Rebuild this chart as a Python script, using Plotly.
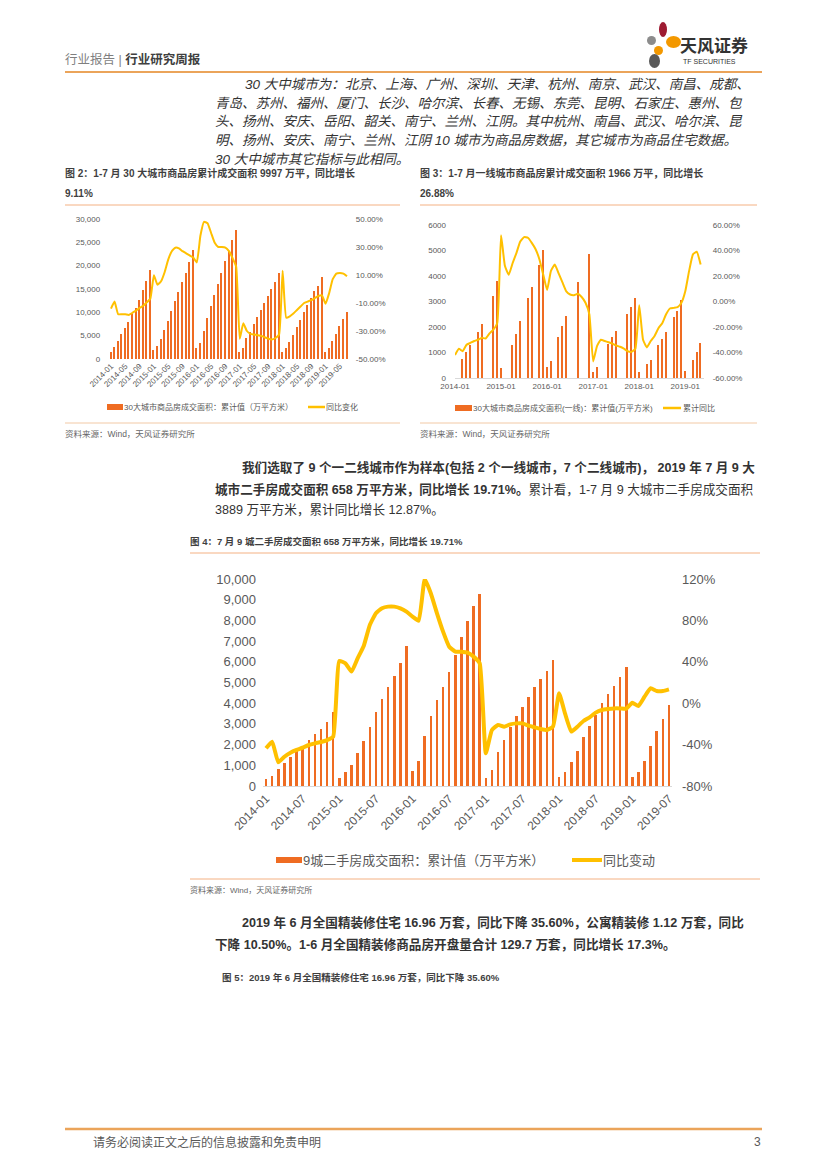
import plotly.graph_objects as go

# The page renders the figure with the browser's default 8px body margin,
# so the figure is shrunk by that margin and all positions shifted.
PAGE_W, PAGE_H = 827, 1169
OFF = 8
W, H = PAGE_W - OFF, PAGE_H - OFF
FONT = "Liberation Sans, Noto Sans CJK SC, sans-serif"
ORANGE = "#EF6C22"
YELLOW = "#FFC000"
GRAY = "#595959"

# ---------------- data ----------------
months = [f"{y}-{m:02d}" for y in range(2014, 2020) for m in range(1, 13)][:67]

# Fig 2: 30 cities cumulative area (10k m2) and YoY (%)
fig2_area = [1500, 2600, 3900, 5400, 6600, 8000, 9600, 11000, 12600, 14800, 16800, 19100,
             1900, 2800, 4200, 6200, 8100, 10200, 12400, 14400, 16400, 18500, 20800, 23400,
             2300, 3500, 6000, 8800, 11300, 13700, 16000, 18500, 21100, 23200, 25400, 27600,
             1400, 2300, 4600, 5700, 7400, 9000, 10400, 11900, 13600, 15100, 16600, 18400,
             1600, 2300, 3700, 5200, 6800, 8400, 10000, 11500, 13000, 14500, 15700, 17500,
             1400, 2300, 3900, 5400, 7100, 8600, 10000]
fig2_yoy = [-14, -9, -18, -18, -18, -18.5, -17, -15.5, -13.5, -12, -9.5, -7,
            9.8, 3, 5.5, 12, 21, 27, 29.5, 29, 27, 25.5, 24, 22.5,
            19, 38, 48, 47, 40, 33, 30, 30, 29.5, 27, 22, 16,
            -35.5, -24.5, -30, -32, -32.5, -33, -33.5, -34.5, -35.5, -36, -35, -32.5,
            13, -20.5, -19.5, -17.5, -15, -12.5, -10, -9, -8, -6.5, -5, -4.5,
            -10.5, -3, 7, 11, 11.5, 11, 9.1]
fig2_xticks = ["2014-01", "2014-05", "2014-09", "2015-01", "2015-05", "2015-09", "2016-01",
               "2016-05", "2016-09", "2017-01", "2017-05", "2017-09", "2018-01", "2018-05",
               "2018-09", "2019-01", "2019-05"]

# Fig 3: tier-1 cities cumulative area (10k m2, gaps = no data) and cumulative YoY (%)
fig3_area = [None, None, 740, 1020, 1280, None, 1800, 2120, None, None, 3220, 3800,
             400, None, None, 1300, 1730, 2230, None, 3140, 3570, None, 4430, 5020,
             440, 680, None, 1590, 2020, 2440, None, None, 3770, None, None, 4850,
             250, 440, None, None, 1350, 1620, 1850, None, None, 2520, 2800, 3120,
             220, None, 530, 720, None, 1280, 1540, 1810, None, 2410, 2630, 3040,
             260, None, 720, 1030, 1360]
fig3_yoy = [-42, -37, -39, -34, -32.5, -31, -30, -28.5, -29, -25, -22, -17,
            52, 28, 21, 30, 38, 47, 50.5, 50, 46, 41, 33, 21,
            9, 24, 29, 22, 15, 8, 5.5, 5, 6, 3.5, -1, -10,
            -47, -35, -30, -31, -32, -33, -34.5, -35.5, -37, -39, -39.5, -37,
            -3, -30, -36, -31, -27, -21, -17, -10, -5.5, -5, -4.5, -1,
            8, 24, 37, 39, 29]
fig3_xticks = ["2014-01", "2015-01", "2016-01", "2017-01", "2018-01", "2019-01"]

# Fig 4: 9 cities second-hand cumulative area (10k m2) and YoY (%)
fig4_area = [340, 480, 820, 1120, 1400, 1710, 1800, 2220, 2520, 2750, 3090, 3590,
             370, 690, 1010, 1610, 2190, 2870, 3590, 4220, 4780, 5310, 5960, 6760,
             740, 1220, 2430, 3400, 4150, 4780, 5520, 6330, 7210, 7970, 8710, 9290,
             400, 770, 1660, 2220, 2870, 3400, 3830, 4320, 4800, 5150, 5570, 6090,
             430, 690, 1180, 1710, 2380, 2910, 3430, 3990, 4440, 4850, 5280, 5760,
             430, 680, 1210, 1930, 2670, 3220, 3910]
fig4_yoy = [-43.6, -37.2, -57.1, -51.7, -47.8, -45.2, -43, -40.4, -38.8, -37.5, -35.6, -32.3,
            40.8, 38.5, 30.5, 43.3, 55.3, 75.6, 86.8, 91.7, 93.3, 93.3, 91.7, 88.4,
            83.6, 79.7, 120, 106, 86.8, 69.1, 54.6, 49.8, 49.8, 48.8, 45, 38.5,
            -48.4, -25.9, -21, -22.7, -20.4, -19.5, -19.5, -21.7, -23.3, -24.9, -25.9, -22.7,
            9.5, -10.4, -27.5, -22.7, -17.2, -13.7, -9.1, -6.6, -5.6, -5, -5, -5.3,
            0.5, -2.7, 6.3, 14.4, 11.8, 11.8, 13.4]
fig4_xticks = ["2014-01", "2014-07", "2015-01", "2015-07", "2016-01", "2016-07",
               "2017-01", "2017-07", "2018-01", "2018-07", "2019-01", "2019-07"]

fig2_left = [0, 5000, 10000, 15000, 20000, 25000, 30000]
fig2_right = [-50, -30, -10, 10, 30, 50]
fig3_left = [0, 1000, 2000, 3000, 4000, 5000, 6000]
fig3_right = [-60, -40, -20, 0, 20, 40, 60]
fig4_left = [0, 1000, 2000, 3000, 4000, 5000, 6000, 7000, 8000, 9000, 10000]
fig4_right = [-80, -40, 0, 40, 80, 120]


def px(x):
    return (x - OFF) / W


def py(y):
    return 1 - (y - OFF) / H


fig = go.Figure()

# Fig 2
fig.add_trace(go.Bar(x=months, y=fig2_area, xaxis="x", yaxis="y", marker_color=ORANGE,
                     marker_line_width=0, width=0.42, showlegend=False))
fig.add_trace(go.Scatter(x=months, y=fig2_yoy, xaxis="x", yaxis="y2", mode="lines",
                         line=dict(color=YELLOW, width=2, shape="spline", smoothing=0.4),
                         showlegend=False))
# Fig 3
fig.add_trace(go.Bar(x=months[:len(fig3_area)], y=fig3_area, xaxis="x2", yaxis="y3",
                     marker_color=ORANGE, marker_line_width=0, width=0.38, showlegend=False))
fig.add_trace(go.Scatter(x=months[:len(fig3_yoy)], y=fig3_yoy, xaxis="x2", yaxis="y4",
                         mode="lines",
                         line=dict(color=YELLOW, width=2, shape="spline", smoothing=0.4),
                         showlegend=False))
# Fig 4
fig.add_trace(go.Bar(x=months, y=fig4_area, xaxis="x3", yaxis="y5", marker_color=ORANGE,
                     marker_line_width=0, width=0.42, showlegend=False))
fig.add_trace(go.Scatter(x=months, y=fig4_yoy, xaxis="x3", yaxis="y6", mode="lines",
                         line=dict(color=YELLOW, width=4, shape="spline", smoothing=0.4),
                         showlegend=False))


def xax(dom, anchor, rng, ticks, angle, size, line=False):
    return dict(domain=[px(dom[0]), px(dom[1])], anchor=anchor, type="category",
                categoryorder="array", categoryarray=months, automargin=False,
                range=rng, tickmode="array", tickvals=ticks, ticktext=ticks,
                tickangle=angle, tickfont=dict(size=size, color=GRAY, family=FONT),
                showgrid=False, zeroline=False, showline=line, linecolor="#D9D9D9",
                linewidth=1, ticks="", fixedrange=True)


def yax(dom, anchor, rng, vals, texts, size, standoff=6):
    return dict(domain=[py(dom[1]), py(dom[0])], anchor=anchor, range=rng,
                tickmode="array", tickvals=vals, ticktext=texts, automargin=False,
                tickfont=dict(size=size, color=GRAY, family=FONT),
                showgrid=False, zeroline=False, showline=False, ticks="",
                ticklabelstandoff=standoff, fixedrange=True)


def yax_r(over, anchor, rng, vals, texts, size, standoff=6):
    return dict(overlaying=over, side="right", anchor=anchor, range=rng,
                tickmode="array", tickvals=vals, ticktext=texts, automargin=False,
                tickfont=dict(size=size, color=GRAY, family=FONT),
                showgrid=False, zeroline=False, showline=False, ticks="",
                ticklabelstandoff=standoff, fixedrange=True)


layout = dict(
    width=W, height=H, margin=dict(l=0, r=0, t=0, b=0, pad=0, autoexpand=False),
    paper_bgcolor="white", plot_bgcolor="rgba(0,0,0,0)",
    font=dict(family=FONT, color="#333333"),
    bargap=0, showlegend=False,
    xaxis=xax((109.2, 348.8), "y", [-0.5, 66.5], fig2_xticks, -45, 8),
    yaxis=yax((219, 359), "x", [0, 30000], fig2_left, [f"{v:,}" for v in fig2_left], 8, 8),
    yaxis2=yax_r("y", "x", [-50, 50], fig2_right, [f"{v:.2f}%" for v in fig2_right], 8, 6),
    xaxis2=xax((455, 703.7), "y3", [0, 64.8], fig3_xticks, 0, 8, line=True),
    yaxis3=yax((225, 378), "x2", [0, 6000], fig3_left, [str(v) for v in fig3_left], 8, 8),
    yaxis4=yax_r("y3", "x2", [-60, 60], fig3_right, [f"{v:.2f}%" for v in fig3_right], 8, 8),
    xaxis3=xax((263, 672), "y5", [-0.5, 66.5], fig4_xticks, -45, 12, line=True),
    yaxis5=yax((579, 786), "x3", [0, 10000], fig4_left, [f"{v:,}" for v in fig4_left], 13, 6),
    yaxis6=yax_r("y5", "x3", [-80, 120], fig4_right, [f"{v}%" for v in fig4_right], 13, 9),
)
fig.update_layout(**layout)

ann = []


def text(x, y, s, size, color="#333333", anchor="left"):
    ann.append(dict(x=px(x - 1 if anchor == "left" else x), y=py(y), xref="paper",
                    yref="paper", text=s, showarrow=False,
                    xanchor=anchor, yanchor="middle", borderpad=0,
                    font=dict(size=size, color=color, family=FONT)))


shapes = []


def hline(x0, x1, y, color, width=1):
    shapes.append(dict(type="line", xref="paper", yref="paper", x0=px(x0), x1=px(x1),
                       y0=py(y), y1=py(y), line=dict(color=color, width=width)))


def rect(x0, y0, x1, y1, color):
    shapes.append(dict(type="rect", xref="paper", yref="paper", x0=px(x0), x1=px(x1),
                       y0=py(y1), y1=py(y0), fillcolor=color, line=dict(width=0)))


def ellipse(x0, y0, x1, y1, color):
    shapes.append(dict(type="circle", xref="paper", yref="paper", x0=px(x0), x1=px(x1),
                       y0=py(y1), y1=py(y0), fillcolor=color, line=dict(width=0)))


# Header
text(65, 60, "<span style='color:#7F7F7F'>行业报告</span> <span style='color:#7F7F7F'>|</span> <b>行业研究周报</b>", 12.5, "#404040")
ellipse(659, 22, 667, 37, "#9E1B32")
ellipse(666, 36, 681, 48, "#F39800")
ellipse(647, 36, 656, 45, "#8C8C8C")
ellipse(654, 46, 663, 55, "#F39800")
ellipse(649, 54, 660, 68, "#595959")
text(680, 46, "<b>天风证券</b>", 17, "#333333")
text(683, 62, "TF SECURITIES", 7, "#333333")
hline(65, 762, 72, "#EBA45A", 2)

# Italic paragraph
para1 = ["30 大中城市为：北京、上海、广州、深圳、天津、杭州、南京、武汉、南昌、成都、",
         "青岛、苏州、福州、厦门、长沙、哈尔滨、长春、无锡、东莞、昆明、石家庄、惠州、包",
         "头、扬州、安庆、岳阳、韶关、南宁、兰州、江阴。其中杭州、南昌、武汉、哈尔滨、昆",
         "明、扬州、安庆、南宁、兰州、江阴 10 城市为商品房数据，其它城市为商品住宅数据。",
         "30 大中城市其它指标与此相同。"]
for i, (ln, yy) in enumerate(zip(para1, [84, 103, 122, 141, 159])):
    text(245 if i == 0 else 215, yy, f"<i>{ln}</i>", 13.5, "#333333")

# Figure 2 / 3 titles
text(65, 173, "<b>图 2：1-7 月 30 大城市商品房累计成交面积 9997 万平，同比增长</b>", 10, "#3F3F3F")
text(65, 193, "<b>9.11%</b>", 10, "#3F3F3F")
text(420, 173, "<b>图 3：1-7 月一线城市商品房累计成交面积 1966 万平，同比增长</b>", 10, "#3F3F3F")
text(420, 193, "<b>26.88%</b>", 10, "#3F3F3F")
hline(65, 400, 205, "#F4B183", 1)
hline(420, 757, 205, "#F4B183", 1)

# Legends fig 2/3
rect(107, 404, 123, 410, ORANGE)
text(124, 407, "30大城市商品房成交面积：累计值（万平方米）", 8, GRAY)
hline(308, 325, 407, YELLOW, 2.5)
text(326, 407, "同比变化", 8, GRAY)
rect(455, 405, 472, 411, ORANGE)
text(473, 408, "30大城市商品房成交面积(一线)：累计值(万平方米)", 8, GRAY)
hline(663, 681, 408, YELLOW, 2.5)
text(683, 408, "累计同比", 8, GRAY)
hline(65, 400, 423, "#F2C9A5", 1)
hline(420, 757, 423, "#F2C9A5", 1)
text(65, 434, "资料来源：Wind，天风证券研究所", 8.5, "#666666")
text(420, 434, "资料来源：Wind，天风证券研究所", 8.5, "#666666")

# Paragraph 2
text(242, 467, "<b>我们选取了 9 个一二线城市作为样本(包括 2 个一线城市，7 个二线城市)， 2019 年 7 月 9 大</b>", 12.6, "#333333")
text(215, 489, "<b>城市二手房成交面积 658 万平方米，同比增长 19.71%。</b>累计看，1-7 月 9 大城市二手房成交面积", 12.6, "#333333")
text(215, 509, "3889 万平方米，累计同比增长 12.87%。", 12.6, "#333333")

# Figure 4
text(190, 541, "<b>图 4：7 月 9 城二手房成交面积 658 万平方米，同比增长 19.71%</b>", 9.5, "#3F3F3F")
hline(190, 760, 553, "#F4B183", 1)
rect(276, 857, 302, 863, ORANGE)
text(303, 860, "9城二手房成交面积：累计值（万平方米）", 13, GRAY)
hline(572, 602, 860, YELLOW, 4)
text(603, 860, "同比变动", 13, GRAY)
hline(190, 760, 879, "#F4B183", 1)
text(190, 890, "资料来源：Wind，天风证券研究所", 8, "#666666")

# Paragraph 3
text(242, 922, "<b>2019 年 6 月全国精装修住宅 16.96 万套，同比下降 35.60%，公寓精装修 1.12 万套，同比</b>", 12.6, "#333333")
text(215, 944, "<b>下降 10.50%。1-6 月全国精装修商品房开盘量合计 129.7 万套，同比增长 17.3%。</b>", 12.6, "#333333")
text(222, 977, "<b>图 5：2019 年 6 月全国精装修住宅 16.96 万套，同比下降 35.60%</b>", 9.5, "#3F3F3F")

# Footer
hline(65, 762, 1129, "#EBA45A", 2.5)
text(93, 1142, "请务必阅读正文之后的信息披露和免责申明", 12, GRAY)
text(762, 1142, "3", 12, GRAY, anchor="right")

fig.update_layout(annotations=ann, shapes=shapes)
fig.write_html("out.html")
